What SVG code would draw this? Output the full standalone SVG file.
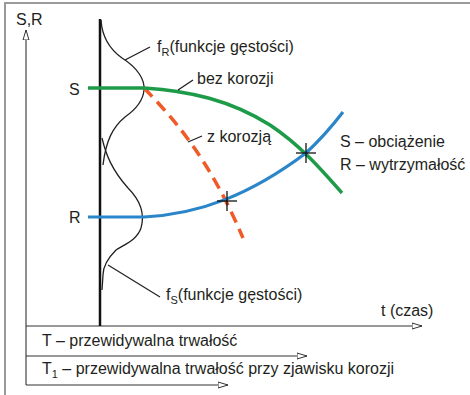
<svg xmlns="http://www.w3.org/2000/svg" width="470" height="395" viewBox="0 0 470 395">
  <defs>
    <marker id="open" viewBox="0 0 10 8" refX="10" refY="4" markerWidth="10" markerHeight="8" markerUnits="userSpaceOnUse" orient="auto">
      <path d="M0,1 L10,4 L0,7 Z" fill="#fff" stroke="#333" stroke-width="1"/>
    </marker>
  </defs>
  <style>
    text { font-family: "Liberation Sans", Arial, sans-serif; font-size: 16px; fill: #231f20; }
    .thin { fill: none; stroke: #333; stroke-width: 1.1; }
    .curve { fill: none; stroke: #231f20; stroke-width: 1.3; stroke-linejoin: round; }
    .lead { fill: none; stroke: #231f20; stroke-width: 1.3; }
    .green { fill: none; stroke: #1e9b48; stroke-width: 3.5; }
    .blue { fill: none; stroke: #2b86c9; stroke-width: 3.2; }
    .red { fill: none; stroke: #f05a28; stroke-width: 3.5; stroke-dasharray: 12 7; }
    .cross { stroke: #111; stroke-width: 1.3; }
  </style>
  <rect x="0" y="0" width="470" height="395" fill="#fff"/>
  <rect x="5" y="3" width="480" height="400" fill="none" stroke="#9a9a9a" stroke-width="2"/>

  <g id="axes">
    <line class="thin" x1="26" y1="385" x2="26" y2="30" marker-end="url(#open)"/>
    <line class="thin" x1="26" y1="326" x2="422" y2="326" marker-end="url(#open)"/>
    <line class="thin" x1="26" y1="356" x2="307" y2="356" marker-end="url(#open)"/>
    <line class="thin" x1="26" y1="385" x2="228" y2="385" marker-end="url(#open)"/>
    <text x="16" y="25">S,R</text>
    <text x="381" y="316">t (czas)</text>
    <text x="42" y="346">T – przewidywalna trwałość</text>
    <text x="42" y="374">T<tspan dy="4" font-size="11">1</tspan><tspan dy="-4"> – przewidywalna trwałość przy zjawisku korozji</tspan></text>
  </g>

  <g id="time-origin">
    <line x1="100" y1="19" x2="100" y2="326" stroke="#111" stroke-width="2.5"/>
  </g>

  <g id="fR">
    <path class="curve" d="M101,20 C102,36 108,48 122,58 C138,68 145,80 144,90 C143,102 135,110 125,117 C113,127 106,140 103,165"/>
    <line class="lead" x1="125" y1="60" x2="150" y2="47"/>
    <text x="157" y="52">f<tspan dy="4" font-size="11">R</tspan><tspan dy="-4">(funkcje gęstości)</tspan></text>
  </g>

  <g id="fS">
    <path class="curve" d="M102,138 C106,155 112,170 128,188 C140,200 145,214 141,228 C137,240 125,244 116,250 C108,258 103,266 103,275 L102,290"/>
    <line class="lead" x1="108" y1="265" x2="160" y2="297"/>
    <text x="166" y="300">f<tspan dy="4" font-size="11">S</tspan><tspan dy="-4">(funkcje gęstości)</tspan></text>
  </g>

  <g id="connectors">
    <path class="red" d="M144,88 C175,120 210,160 243,238"/>
    <path class="green" d="M88,88 L144,88 C190,91 230,100 270,125 C300,145 320,168 342,193"/>
    <path class="blue" d="M88,217 L144,217 C200,214 250,195 306,153 C320,140 333,125 343,112"/>
  </g>

  <g id="S-label">
    <text x="69" y="95">S</text>
  </g>
  <g id="R-label">
    <text x="69" y="223">R</text>
  </g>

  <g id="bez-korozji">
    <line class="lead" x1="178" y1="90" x2="193" y2="80"/>
    <text x="197" y="84">bez korozji</text>
  </g>

  <g id="z-korozja">
    <line class="lead" x1="188" y1="142" x2="202" y2="136"/>
    <text x="207" y="142">z korozją</text>
  </g>

  <g id="crosses">
    <line class="cross" x1="296" y1="153" x2="316" y2="153"/>
    <line class="cross" x1="306" y1="143" x2="306" y2="163"/>
    <line class="cross" x1="217" y1="201" x2="237" y2="201"/>
    <line class="cross" x1="227" y1="191" x2="227" y2="211"/>
  </g>

  <g id="legend">
    <text x="340" y="147">S – obciążenie</text>
    <text x="340" y="170">R – wytrzymałość</text>
  </g>
</svg>
